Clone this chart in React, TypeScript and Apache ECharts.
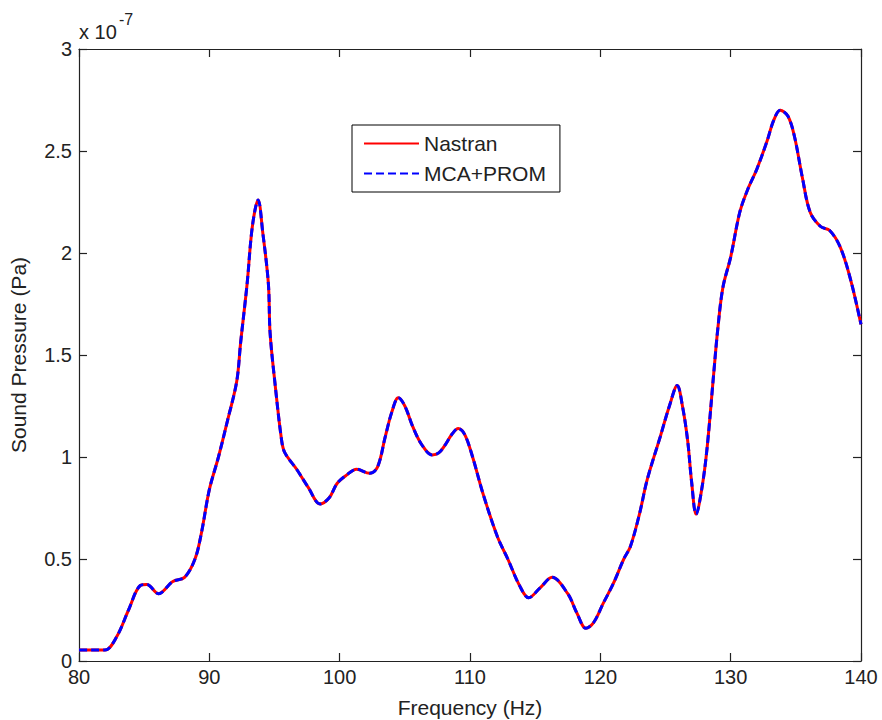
import React, { useEffect, useRef } from "react";
import * as echarts from "echarts";

// Frequency (Hz)
const freq = [
  80, 81, 82, 82.9, 83.8, 84.7, 85.2, 86.1, 87.2, 88.1, 88.9, 89.4, 90.0, 90.7, 91.4, 92.1,
  92.4, 92.9, 93.3, 93.74, 94.1, 94.53, 94.66, 95.04, 95.55, 95.8, 96.7, 97.6, 98.5, 99.2,
  99.8, 100.5, 101.3, 102.3, 102.9, 103.5, 104.0, 104.5, 105.0, 105.6, 106.3, 107.1, 107.6,
  108.1, 108.6, 109.1, 109.6, 110.2, 111.0, 112.1, 112.9, 113.8, 114.5, 115.4, 116.3, 117.5,
  118.2, 118.9, 119.5, 120.2, 121.0, 121.8, 122.3, 123.0, 123.6, 124.6, 125.3, 125.9, 126.3,
  126.7, 127.0, 127.35, 127.8, 128.2, 128.7, 129.0, 129.4, 130.0, 130.7, 131.3, 132.0, 132.8,
  133.3, 133.8, 134.4, 134.9, 135.5, 136.1, 136.9, 137.6, 138.4, 139.2, 140.0,
];

// Sound pressure, in units of 1e-7 Pa
const nastran = [
  0.054, 0.054, 0.054, 0.12, 0.25, 0.37, 0.375, 0.33, 0.39, 0.41, 0.5, 0.63, 0.84, 1.0, 1.18, 1.37,
  1.56, 1.85, 2.13, 2.26, 2.1, 1.85, 1.61, 1.36, 1.08, 1.02, 0.94, 0.85, 0.77, 0.8,
  0.87, 0.91, 0.94, 0.92, 0.95, 1.1, 1.22, 1.29, 1.25, 1.15, 1.06, 1.01, 1.02,
  1.06, 1.11, 1.14, 1.11, 1.0, 0.82, 0.61, 0.5, 0.37, 0.31, 0.36, 0.41, 0.33,
  0.235, 0.16, 0.19, 0.28, 0.38, 0.5, 0.56, 0.72, 0.89, 1.1, 1.25, 1.35, 1.25,
  1.08, 0.88, 0.72, 0.85, 1.05, 1.41, 1.62, 1.83, 1.98, 2.2, 2.31, 2.41, 2.55,
  2.65, 2.7, 2.67, 2.57, 2.37, 2.2, 2.13, 2.11, 2.03, 1.87, 1.65,
];

const mcaProm = [
  0.054, 0.054, 0.054, 0.12, 0.25, 0.37, 0.375, 0.33, 0.39, 0.41, 0.5, 0.63, 0.84, 1.0, 1.18, 1.37,
  1.56, 1.85, 2.13, 2.26, 2.1, 1.85, 1.61, 1.36, 1.08, 1.02, 0.94, 0.85, 0.77, 0.8,
  0.87, 0.91, 0.94, 0.92, 0.95, 1.1, 1.22, 1.29, 1.25, 1.15, 1.06, 1.01, 1.02,
  1.06, 1.11, 1.14, 1.11, 1.0, 0.82, 0.61, 0.5, 0.37, 0.31, 0.36, 0.41, 0.33,
  0.235, 0.16, 0.19, 0.28, 0.38, 0.5, 0.56, 0.72, 0.89, 1.1, 1.25, 1.35, 1.25,
  1.08, 0.88, 0.72, 0.85, 1.05, 1.41, 1.62, 1.83, 1.98, 2.2, 2.31, 2.41, 2.55,
  2.65, 2.7, 2.67, 2.57, 2.37, 2.2, 2.13, 2.11, 2.03, 1.87, 1.65,
];

const seriesNames = ["Nastran", "MCA+PROM"];
const xTitle = "Frequency (Hz)";
const yTitle = "Sound Pressure (Pa)";

const FONT = '"Liberation Sans", Arial, Helvetica, sans-serif';
const INK = "#222";

export default function App() {
  const ref = useRef<HTMLDivElement>(null);

  useEffect(() => {
    document.body.style.margin = "0";
    if (!ref.current) return;
    const chart = echarts.init(ref.current, null, { renderer: "svg" });

    const axisLine = { show: true, onZero: false, lineStyle: { color: INK, width: 1.2 } };
    const axisTick = { show: true, inside: true, length: 8, lineStyle: { color: INK, width: 1.2 } };

    chart.setOption({
      animation: false,
      backgroundColor: "#fff",
      textStyle: { fontFamily: FONT },
      grid: { left: 79, top: 49, right: 21, bottom: 59, containLabel: false, outerBoundsMode: "none" },
      legend: {
        left: 352,
        top: 125,
        orient: "vertical",
        data: seriesNames,
        itemWidth: 55,
        itemHeight: 14,
        itemGap: 9,
        padding: [8, 14, 8, 11],
        backgroundColor: "#fff",
        borderColor: "#000",
        borderWidth: 1,
        borderRadius: 0,
        itemStyle: { opacity: 0 },
        textStyle: { fontSize: 21, color: INK, fontFamily: FONT },
      },
      xAxis: [
        {
          type: "value",
          min: 80,
          max: 140,
          interval: 10,
          position: "bottom",
          name: xTitle,
          nameLocation: "middle",
          nameGap: 36,
          nameTextStyle: { fontSize: 21, color: INK, fontFamily: FONT },
          axisLine,
          axisTick,
          axisLabel: { fontSize: 20, color: INK, margin: 6, fontFamily: FONT },
          splitLine: { show: false },
        },
        {
          type: "value",
          min: 80,
          max: 140,
          interval: 10,
          position: "top",
          axisLine,
          axisTick,
          axisLabel: { show: false },
          splitLine: { show: false },
        },
      ],
      yAxis: [
        {
          type: "value",
          min: 0,
          max: 3,
          interval: 0.5,
          position: "left",
          name: yTitle,
          nameLocation: "middle",
          nameGap: 50,
          nameTextStyle: { fontSize: 21, color: INK, fontFamily: FONT },
          axisLine,
          axisTick,
          axisLabel: { fontSize: 20, color: INK, margin: 7, fontFamily: FONT },
          splitLine: { show: false },
        },
        {
          type: "value",
          min: 0,
          max: 3,
          interval: 0.5,
          position: "right",
          axisLine,
          axisTick,
          axisLabel: { show: false },
          splitLine: { show: false },
        },
      ],
      graphic: [
        {
          type: "text",
          left: 79,
          top: 22,
          style: { text: "x 10", fontSize: 20, fill: INK, fontFamily: FONT },
        },
        {
          type: "text",
          left: 119,
          top: 11,
          style: { text: "-7", fontSize: 16, fill: INK, fontFamily: FONT },
        },
      ],
      series: [
        {
          name: seriesNames[0],
          type: "line",
          data: freq.map((f, i) => [f, nastran[i]]),
          smooth: 0.35,
          symbol: "none",
          lineStyle: { color: "#ff0000", width: 3 },
          itemStyle: { color: "#ff0000" },
          z: 2,
        },
        {
          name: seriesNames[1],
          type: "line",
          data: freq.map((f, i) => [f, mcaProm[i]]),
          smooth: 0.35,
          symbol: "none",
          lineStyle: { color: "#0000ff", width: 3, type: [8, 4] },
          itemStyle: { color: "#0000ff" },
          z: 3,
        },
      ],
    });

    return () => chart.dispose();
  }, []);

  return <div ref={ref} style={{ width: 882, height: 720 }} />;
}
